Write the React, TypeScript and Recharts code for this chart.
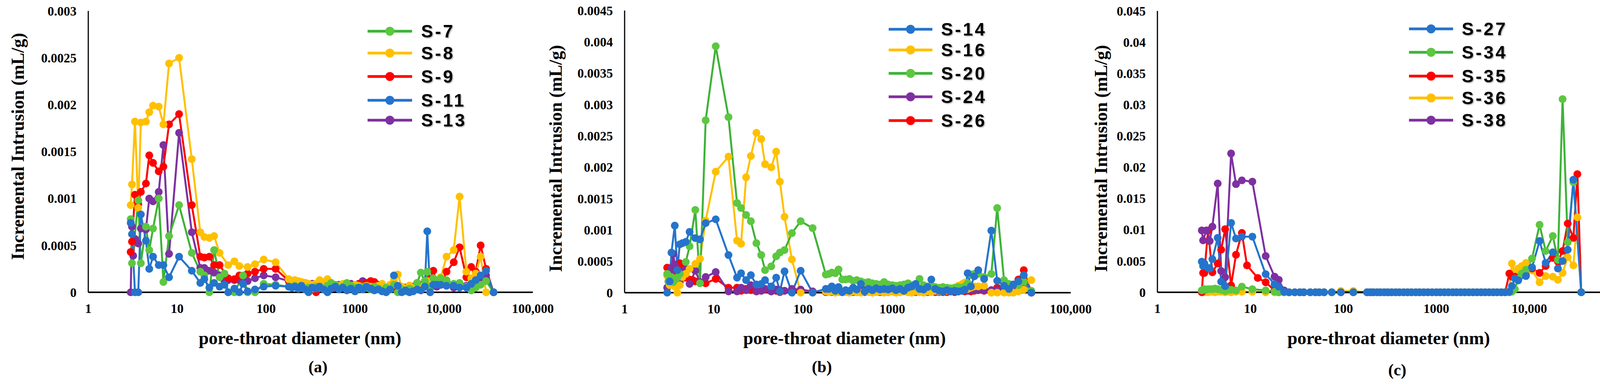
import React from 'react'
import { LineChart, Line, XAxis, YAxis } from 'recharts'

const n = null

// pore-throat diameters (nm), same pressure table for every sample
const DIAM = [
  3, 3.1, 3.2, 3.35, 3.5, 3.65, 3.9, 4.15, 4.45, 4.85,
  5.35, 5.8, 6.2, 7, 8.1, 9.2, 10.5, 12, 14.6, 18.2,
  20.2, 23, 26, 30, 34, 37.5, 44, 50, 55, 62,
  75, 94, 128, 180, 195, 210, 230, 250, 275, 300,
  330, 365, 400, 445, 490, 540, 600, 660, 730, 810,
  900, 1000, 1100, 1220, 1350, 1500, 1650, 1830, 2020, 2240,
  2480, 2740, 3030, 3350, 3700, 4100, 4500, 5000, 5500, 6100,
  6500, 7000, 7600, 8300, 9200, 10700, 12900, 15000, 17900, 20300,
  22800, 25900, 29800, 32900, 36200,
]

// ---- panel (a), mL/g
const S7 = [
  0.00078, 0.00031, n, n, n, 0.00098, 0.00031, n, 0.0007, 0.00045,
  0.00068, n, 0.001, 0.00011, 0.0006, n, 0.00093, n, 0.00042, 0.00022,
  0.00018, 0, 0.00045, 0.00016, 0.0002, 0, 0, n, 0.00018, 0,
  0, 0.00009, 0.00008, 0.00006, 0.00005, 0.00007, 0.00004, 0.00006, 0.00003, 0.00005,
  0.00004, 0.00006, 0.00005, 0.00003, 0.00007, 0.0001, 0.00008, 0.00004, 0.00006, 0.0001,
  0.00007, 0.00005, 0.00004, 0.00006, 0.00005, 0.00003, 0.00006, 0.00004, 0.00002, 0.00005,
  0.00003, 0.00008, 0, 0.00003, 0.00001, 0.00004, 0.00002, 0.0001, 0.00021, 0.00012,
  0.00022, 0.00006, 0.00015, 0.00012, 0.00015, 0.00013, 0.00009, 0.0001, 0.00006, 0.00002,
  0.00005, 0.00008, 0.00012, n, 0,
]
const S8 = [
  0.00093, 0.00115, n, 0.00182, n, 0.0009, 0.00181, n, 0.00182, 0.00192,
  0.00199, n, 0.00198, 0.00179, 0.00244, n, 0.0025, n, 0.00142, 0.00064,
  0.00059, 0.00058, 0.0006, 0.00042, n, 0.00029, 0.00033, 0.00028, n, 0.00027,
  0.0003, 0.00035, 0.00032, 0.00014, 0.00012, 0.00013, 0.00012, 0.00011, 0.0001, 0.00009,
  0.00008, 0.00009, 0.00013, 0.00011, 0.00014, 0.0001, 0.00008, 0.00007, 0.00009, 0.00008,
  0.00007, 0.00008, 0.00007, 0.00006, 0.00007, 0.00006, 0.00005, 0.00007, 0.00009, 0.00005,
  0.00008, 0.00013, 0.00019, 0.00006, 0.00004, 0.00007, 0.00005, 0.00003, 0.00006, 0.00008,
  0.00012, 0.00006, 0.00009, 0.00012, 0.00016, 0.00038, 0.00045, 0.00102, 0.00022, 0.00015,
  0.0002, 0.00038, 0, n, n,
]
const S9 = [
  0.00043, 0.00054, n, 0.00104, n, 0.00094, 0.00107, n, 0.00116, 0.00146,
  0.00138, n, 0.00129, 0.00134, 0.00179, n, 0.0019, n, 0.00093, 0.00038,
  0.00037, 0.00038, 0.00029, 0.00029, n, 0.00015, 0.00014, 0.00018, n, 0.0002,
  0.00022, 0.00025, 0.00025, 0.00012, 0.00009, 0.0001, 0.00008, 0.00007, 0.00009, 0.00006,
  0.00004, 0, 0.00005, 0.00007, 0.00006, 0.00008, 0.00005, 0.00007, 0.00006, 0.00009,
  0.00008, 0.00006, 0.00009, 0.00007, 0.0001, 0.00012, 0.00011, 0.00008, 0.00007, 0.00005,
  0.00004, 0.00006, 0.00005, 0.00003, 0.00005, 0.00007, 0.00006, 0.0001, 0.00008, 0.00006,
  0.00009, 0.00014, 0.00023, 0.0001, 0.00008, 0.00022, 0.00032, 0.00048, 0.00016, 0.00027,
  0.00022, 0.0005, 0.00025, n, 0,
]
const S11 = [
  0.00074, 0.00062, n, 0, n, 0, 0.00083, n, 0.00055, 0.00025,
  0.00038, n, 0.00029, 0.00029, 0.00016, n, 0.00038, n, 0.00023, 0.0001,
  0.00014, 0.00005, 0.0001, 0.00006, 0.00008, 0, 0.00004, 0, 0.00009, 0.00001,
  0.00003, 0.00006, 0.00007, 0.00006, 0.00005, 0.00006, 0.00004, 0.00007, 0.00003, 0,
  0.00005, 0.00004, 0.00006, 0.00003, 0, 0.00004, 0.00006, 0.00003, 0.00005, 0.00002,
  0.00004, 0.00001, 0.00005, 0.00003, 0.00006, 0.00004, 0.00002, 0.00003, 0.00001, 0,
  0.00003, 0.00018, 0.00007, 0, 0.00002, 0, 0.00001, 0.00003, 0.00002, 0.00006,
  0.00065, 0, 0.00008, 0.00008, 0.00008, 0.00007, 0.00007, 0.00005, 0.00005, 0.00009,
  0.00013, 0.00018, 0.00023, n, 0,
]
const S13 = [
  0, 0.0007, 0.00039, 0.00057, n, 0.00052, 0.00068, n, 0.00067, 0.001,
  0.00097, n, 0.00107, 0.00157, 0.00041, n, 0.0017, n, 0.00064, 0.00026,
  0.00026, 0.00023, 0.00021, 0.00018, 0.00012, 0.00013, 0.00013, 0.00013, 0.00014, 0.00012,
  0.00015, 0.00018, 0.00016, 0.00012, 0.0001, 0.00009, 0.00011, 0.00008, 0.0001, 0.00007,
  0.00009, 0.00006, 0.00008, 0.00005, 0.00007, 0.00004, 0.00006, 0.00008, 0.00005, 0.00007,
  0.00009, 0.00007, 0.00008, 0.00012, 0.00006, 0.00008, 0.00005, 0.00004, 0.00006, 0.00003,
  0.00005, 0.00004, 0.00006, 0.00003, 0.00004, 0.00002, 0.00003, 0.00005, 0.00004, 0.00006,
  0.00008, 0.00005, 0.00007, 0.00006, 0.00008, 0.00007, 0.00005, 0.00006, 0.00007, 0.00008,
  0.0001, 0.00012, 0.00018, n, 0,
]

// ---- panel (b), mL/g
const S14 = [
  0, n, 0.00018, 0.00064, n, 0.00107, 0.00036, 0.00077, 0.00079, 0.00081,
  0.00097, n, 0.00087, 0.00085, 0.00111, n, 0.00117, n, 0.0006, 0.00024,
  0.00031, 0.0002, 0.00028, 0.00013, 0.00014, 0.0002, 0.0001, 0.00024, 0.00002, 0.00034,
  0, 0.00035, 0, 0.00006, 0.00006, 0.0001, 0.00003, 0.00009, 0.00001, 0.00004,
  0.00003, 0.00008, 0.00005, 0.00014, 0.00002, 0.00006, 0.00004, 0.00007, 0.00005, 0.00006,
  0.00005, 0.00007, 0.00004, 0.00006, 0.00003, 0.00008, 0.0001, 0.00014, 0.00006, 0.00005,
  0.00009, 0.00021, 0.00006, 0.00003, 0.00002, 0.00004, 0.00002, 0.00003, 0.00002, 0.00003,
  0.00005, 0.00031, 0.0001, 0.00026, 0.00036, 0.00022, 0.00099, 0.00019, 0.00011, 0.00006,
  0.00013, 0.00018, 0.00028, n, 0,
]
const S16 = [
  0.00027, 0.00018, 0.00012, 0.00022, 0.00015, 0.0001, 0, 0.00012, 0.00025, 0.0003,
  0.00038, n, 0.00046, 0.00054, 0.00115, n, 0.00193, n, 0.00217, 0.00083,
  0.00078, 0.00184, 0.00218, 0.00255, 0.00245, 0.00205, 0.002, 0.00225, 0.00177, 0.00121,
  0.00053, 0, 0, 0.00002, 0.00001, 0.00002, 0, 0.00001, 0.00002, 0.00001,
  0, 0.00002, 0.00001, 0, 0.00002, 0.00001, 0, 0.00001, 0.00002, 0,
  0.00001, 0.00002, 0, 0.00001, 0.00002, 0.00001, 0, 0.00002, 0.00001, 0,
  0.00002, 0.00001, 0.00003, 0.00002, 0.00004, 0.00003, 0.00005, 0.00008, 0.00011, 0.00014,
  0.00016, 0.00006, 0.00008, 0.0001, 0.0001, 0.00011, 0, 0, 0, 0,
  0, 0.00002, 0.00005, n, 0.0002,
]
const S20 = [
  0.0003, 0.00018, 0.00022, 0.00025, 0.00017, 0.00022, 0.00024, 0.0003, n, 0.00049,
  0.00074, n, 0.00132, 0.00015, 0.00275, n, 0.00393, n, 0.0028, 0.00143,
  0.00135, 0.00124, 0.00114, 0.00079, 0.0006, 0.00036, 0.00042, 0.00058, 0.00064, 0.00068,
  0.00095, 0.00114, 0.00103, 0.00029, 0.0003, 0.00032, 0.00031, 0.00037, 0.00021, 0.00021,
  0.00022, 0.00019, 0.0002, 0.00018, 0.00016, 0.00017, 0.00015, 0.00014, 0.00013, 0.00017,
  0.00013, 0.00012, 0.00011, 0.00012, 0.00013, 0.00015, 0.00012, 0.0001, 0.00022, 0.00012,
  0.0001, 0.0001, 0.00009, 0.00008, 0.00009, 0.00008, 0.00007, 0.00008, 0.00009, 0.00008,
  0.0001, 0.00015, 0.00029, 0.0003, 0.0003, 0.00025, 0.0003, 0.00135, 0.0002, 0.00014,
  0.00013, 0.00012, 0.00018, n, 0.00003,
]
const S24 = [
  0.00008, 0.00018, 0.0003, 0.0004, 0.00062, 0.00045, 0.00022, 0.00017, 0.0003, 0.00038,
  0.00014, n, 0.00035, 0.00017, 0.00025, n, 0.00033, n, 0.00002, 0.00002,
  0.00008, 0.00004, 0.00012, 0.00002, 0.00003, 0.00006, 0.00002, 0.00005, 0.00004, 0.00003,
  0.00006, 0.00005, 0.00002, 0.00003, 0.00002, 0.00004, 0.00003, 0.00002, 0.00001, 0.00003,
  0.00002, 0.00001, 0.00003, 0.00002, 0.00004, 0.00002, 0.00001, 0.00003, 0.00002, 0.00004,
  0.00003, 0.00002, 0.00001, 0.00002, 0.00003, 0.00002, 0.00004, 0.00002, 0.00003, 0.00001,
  0.00002, 0.00003, 0.00002, 0.00001, 0.00002, 0.00003, 0.00002, 0.00001, 0.00002, 0.00003,
  0.00004, 0.00003, 0.00005, 0.00004, 0.00005, 0.00004, 0.00004, 0.00004, 0.00005, 0.00003,
  0.00004, 0.00005, 0.00006, n, 0,
]
const S26 = [
  0.0004, 0.00025, 0.0003, 0.00035, 0.0002, 0.00028, 0.00025, 0.00047, 0.00038, 0.00024,
  0.00021, 0.0002, 0.00018, 0.00016, 0.00015, n, 0.00022, n, 0.00008, 0.00008,
  0.00003, 0.00006, 0.00004, 0.00002, 0.00003, 0.00005, 0.00002, 0.00003, 0.00001, 0.00003,
  0.00002, 0.00004, 0.00002, 0.00001, 0.00002, 0.00001, 0.00003, 0.00002, 0.00001, 0.00002,
  0.00001, 0.00002, 0.00001, 0.00002, 0.00001, 0.00003, 0.00001, 0.00002, 0.00001, 0.00002,
  0.00001, 0.00002, 0.00001, 0.00001, 0.00002, 0.00001, 0.00002, 0.00001, 0.00002, 0.00001,
  0.00001, 0.00002, 0.00001, 0.00002, 0.00001, 0.00001, 0.00002, 0.00001, 0.00002, 0.00003,
  0.00002, 0.00003, 0.00002, 0.00003, 0.00004, 0.00003, 0.00004, 0.00008, 0.00003, 0.00004,
  0.00005, 0.00021, 0.00036, n, 0,
]

// ---- panel (c), mL/g
const S27 = [
  0.0049, 0.0042, 0.0046, n, 0.0039, 0.0038, 0.0053, n, 0.0087, 0.0017,
  0.001, n, 0.0111, 0.0086, 0.0089, n, 0.0089, n, 0.0029, 0.0013,
  0.0009, 0.0001, 0, 0, 0, 0, 0, 0, 0, 0,
  0, 0, 0, 0, 0, 0, 0, 0, 0, 0,
  0, 0, 0, 0, 0, 0, 0, 0, 0, 0,
  0, 0, 0, 0, 0, 0, 0, 0, 0, 0,
  0, 0, 0, 0, 0, 0, 0, 0, 0, 0.0001,
  0.001, 0.0022, 0.0019, n, 0.0026, 0.004, 0.0082, 0.0047, 0.0064, 0.0038,
  0.005, 0.0068, 0.018, n, 0,
]
const S34 = [
  0.0003, 0.0004, 0.0005, 0.0004, 0.0005, 0.0005, 0.0005, 0.0006, 0.0005, 0.0004,
  0.0002, 0.0004, 0.0004, 0.0003, 0.0009, n, 0.0005, n, 0.0003, 0.0001,
  0, 0, 0, 0, 0, 0, 0, 0, 0, 0,
  0, 0, 0, 0, 0, 0, 0, 0, 0, 0,
  0, 0, 0, 0, 0, 0, 0, 0, 0, 0,
  0, 0, 0, 0, 0, 0, 0, 0, 0, 0,
  0, 0, 0, 0, 0, 0, 0, 0, 0, 0,
  0.0001, 0.0005, 0.0022, 0.003, 0.0036, 0.0054, 0.0108, 0.0066, 0.009, 0.0052,
  0.0309, 0.008, 0.0176, n, 0,
]
const S35 = [
  0, 0.0031, 0.0031, n, 0.0099, n, 0.0032, n, 0.0046, 0.0068,
  0.0101, n, 0.0011, 0.006, 0.0095, 0.0043, n, 0.0023, 0.0016, 0.0003,
  0, 0, 0, 0, 0, 0, 0, 0, 0, 0,
  0, 0, 0, 0, 0, 0, 0, 0, 0, 0,
  0, 0, 0, 0, 0, 0, 0, 0, 0, 0,
  0, 0, 0, 0, 0, 0, 0, 0, 0, 0,
  0, 0, 0, 0, 0, 0, 0, 0, 0, 0.003,
  0.0025, 0.0025, 0.002, n, 0.0027, 0.0038, 0.0031, 0.0042, 0.0055, 0.0049,
  0.0066, 0.011, 0.0087, 0.0189, 0,
]
const S36 = [
  0.0001, 0.0001, 0, 0.0001, 0, 0.0001, 0.0001, 0, 0.0001, 0.0001,
  0, 0.0001, 0, 0.0001, 0.0001, n, 0.0001, n, 0, 0,
  0, 0, 0, 0, 0, 0, 0, 0, 0, 0,
  0, 0.0002, 0.0002, 0, 0, 0, 0, 0, 0, 0,
  0, 0, 0, 0, 0, 0, 0, 0, 0, 0,
  0, 0, 0, 0, 0, 0, 0, 0, 0, 0,
  0, 0, 0, 0, 0, 0, 0, 0, 0, 0.0002,
  0.0046, 0.0033, 0.0038, 0.0042, 0.0047, 0.0035, 0.0016, 0.0026, 0.0025, 0.002,
  0.0031, 0.0056, 0.0043, 0.012, 0,
]
const S38 = [
  0.0099, 0.0083, n, 0.0099, n, 0.0082, 0.0105, n, 0.0174, 0.0034,
  0.0024, n, 0.0222, 0.0173, 0.0179, n, 0.0177, n, 0.0058, 0.0025,
  0.002, 0.0003, 0, 0, 0, 0, 0, 0, 0, 0,
  0, 0, 0, 0, 0, 0, 0, 0, 0, 0,
  0, 0, 0, 0, 0, 0, 0, 0, 0, 0,
  0, 0, 0, 0, 0, 0, 0, 0, 0, 0,
  0, 0, 0, 0, 0, 0, 0, 0, 0, 0,
  n, n, n, n, n, n, n, n, n, n,
  n, n, n, n, n,
]

const X_TICKS = [1, 10, 100, 1000, 10000, 100000]
const Y_TICKS_A = [0, 0.0005, 0.001, 0.0015, 0.002, 0.0025, 0.003]
const Y_TICKS_B = [0, 0.0005, 0.001, 0.0015, 0.002, 0.0025, 0.003, 0.0035, 0.004, 0.0045]
const Y_TICKS_C = [0, 0.005, 0.01, 0.015, 0.02, 0.025, 0.03, 0.035, 0.04, 0.045]

const GREEN = '#3DB337'
const YELLOW = '#FFC000'
const RED = '#FF0000'
const BLUE = '#2574CB'
const PURPLE = '#7E30A0'

const SERIF = '"Liberation Serif", "Times New Roman", serif'
const SANS = '"Liberation Sans", Arial, sans-serif'
const H = 984

interface Series { name: string; key: string; color: string; dot: string; values: (number | null)[] }
interface PanelCfg {
  tag: string
  left: number; width: number; yWidth: number
  plotLeft: number; plotRight: number; plotTop: number; plotBottom: number
  yTicks: number[]
  series: Series[]        // legend order
  order: number[]         // draw order
  legend: { x1: number; x2: number; tx: number; rows: number[] }
  yTitle: [number, number]
  xTitle: [number, number]
  tagPos: [number, number]
}

const PANELS: PanelCfg[] = [
  {
    tag: '(a)', left: 0, width: 1440, yWidth: 150,
    plotLeft: 226, plotRight: 1364, plotTop: 28, plotBottom: 749,
    yTicks: Y_TICKS_A,
    series: [
      { name: 'S-7', key: 's7', color: GREEN, dot: '#5CC741', values: S7 },
      { name: 'S-8', key: 's8', color: YELLOW, dot: YELLOW, values: S8 },
      { name: 'S-9', key: 's9', color: RED, dot: RED, values: S9 },
      { name: 'S-11', key: 's11', color: BLUE, dot: BLUE, values: S11 },
      { name: 'S-13', key: 's13', color: PURPLE, dot: PURPLE, values: S13 },
    ],
    order: [4, 2, 1, 0, 3],
    legend: { x1: 941, x2: 1055, tx: 1078, rows: [80, 136, 196, 257, 308] },
    yTitle: [45, 375], xTitle: [768, 866], tagPos: [814, 940],
  },
  {
    tag: '(b)', left: 1440, width: 1380, yWidth: 150,
    plotLeft: 1599, plotRight: 2741, plotTop: 27, plotBottom: 750,
    yTicks: Y_TICKS_B,
    series: [
      { name: 'S-14', key: 's14', color: BLUE, dot: BLUE, values: S14 },
      { name: 'S-16', key: 's16', color: YELLOW, dot: YELLOW, values: S16 },
      { name: 'S-20', key: 's20', color: GREEN, dot: '#5CC741', values: S20 },
      { name: 'S-24', key: 's24', color: PURPLE, dot: PURPLE, values: S24 },
      { name: 'S-26', key: 's26', color: RED, dot: RED, values: S26 },
    ],
    order: [4, 3, 1, 2, 0],
    legend: { x1: 2275, x2: 2387, tx: 2409, rows: [75, 128, 188, 248, 309] },
    yTitle: [1422, 406], xTitle: [2162, 866], tagPos: [2104, 940],
  },
  {
    tag: '(c)', left: 2840, width: 1374, yWidth: 110,
    plotLeft: 2963, plotRight: 4153, plotTop: 28, plotBottom: 749,
    yTicks: Y_TICKS_C,
    series: [
      { name: 'S-27', key: 's27', color: BLUE, dot: BLUE, values: S27 },
      { name: 'S-34', key: 's34', color: GREEN, dot: '#5CC741', values: S34 },
      { name: 'S-35', key: 's35', color: RED, dot: RED, values: S35 },
      { name: 'S-36', key: 's36', color: YELLOW, dot: YELLOW, values: S36 },
      { name: 'S-38', key: 's38', color: PURPLE, dot: PURPLE, values: S38 },
    ],
    order: [3, 2, 4, 1, 0],
    legend: { x1: 3607, x2: 3720, tx: 3742, rows: [74, 134, 195, 251, 308] },
    yTitle: [2818, 406], xTitle: [3555, 866], tagPos: [3577, 948],
  },
]

const TICK = { fontSize: 33, fontFamily: SERIF, fontWeight: 700, fill: '#000' }
const X_AXIS_H = 60

function fmtX(v: number) {
  return v >= 10000 ? v.toLocaleString('en-US') : String(v)
}

function fmtY(v: number) {
  return String(v)
}

function Panel({ p }: { p: PanelCfg }) {
  const rows = DIAM.map((d, i) => {
    const row: Record<string, number | null> = { d }
    p.series.forEach((s) => { row[s.key] = s.values[i] })
    return row
  })
  const yMax = p.yTicks[p.yTicks.length - 1]
  const margin = {
    top: p.plotTop,
    right: p.left + p.width - p.plotRight,
    bottom: H - p.plotBottom - X_AXIS_H,
    left: p.plotLeft - p.left - p.yWidth,
  }

  return (
    <div style={{ position: 'absolute', left: p.left, top: 0 }}>
      <LineChart width={p.width} height={H} data={rows} margin={margin}>
        <XAxis
          dataKey="d" type="number" scale="log" domain={[1, 100000]} allowDataOverflow
          ticks={X_TICKS} interval={0} tickFormatter={fmtX}
          tickLine={false} tickSize={0} tickMargin={30} tick={TICK}
          axisLine={{ stroke: '#000', strokeWidth: 4 }} height={X_AXIS_H}
        />
        <XAxis
          xAxisId="top" orientation="top" dataKey="d" type="number" scale="log"
          domain={[1, 100000]} allowDataOverflow tick={false} tickLine={false}
          axisLine={{ stroke: '#000', strokeWidth: 3 }} height={0}
        />
        <YAxis
          type="number" domain={[0, yMax]} ticks={p.yTicks} interval={0} tickFormatter={fmtY}
          tickLine={false} tickSize={0} tickMargin={30} tick={TICK}
          axisLine={{ stroke: '#000', strokeWidth: 3 }} width={p.yWidth}
        />
        <YAxis
          yAxisId="right" orientation="right" type="number" domain={[0, yMax]}
          tick={false} tickLine={false} axisLine={{ stroke: '#000', strokeWidth: 3 }} width={0}
        />
        {p.order.map((i) => {
          const s = p.series[i]
          return (
            <Line
              key={s.key}
              dataKey={s.key}
              stroke={s.color}
              strokeWidth={5}
              dot={{ r: 10, fill: s.dot, stroke: s.dot, strokeWidth: 0 }}
              activeDot={false}
              connectNulls
              isAnimationActive={false}
            />
          )
        })}
      </LineChart>
    </div>
  )
}

function Labels() {
  return (
    <svg width={4214} height={H} style={{ position: 'absolute', left: 0, top: 0, pointerEvents: 'none' }}>
      <defs>
        <filter id="legendShadow" x="-10%" y="-20%" width="130%" height="150%">
          <feDropShadow dx="2" dy="2" stdDeviation="1.5" floodColor="#000" floodOpacity="0.35" />
        </filter>
      </defs>
      {PANELS.map((p) => (
        <g key={p.tag}>
          <text
            x={p.yTitle[0]} y={p.yTitle[1]}
            transform={`rotate(-90 ${p.yTitle[0]} ${p.yTitle[1]})`}
            textAnchor="middle" dominantBaseline="central"
            fontFamily={SERIF} fontWeight={700} fontSize={46} fill="#000"
          >
            Incremental Intrusion (mL/g)
          </text>
          <text
            x={p.xTitle[0]} y={p.xTitle[1]} textAnchor="middle" dominantBaseline="central"
            fontFamily={SERIF} fontWeight={700} fontSize={46} fill="#000"
          >
            pore-throat diameter (nm)
          </text>
          <text
            x={p.tagPos[0]} y={p.tagPos[1]} textAnchor="middle" dominantBaseline="central"
            fontFamily={SERIF} fontWeight={700} fontSize={42} fill="#000"
          >
            {p.tag}
          </text>
          {p.series.map((s, i) => {
            const y = p.legend.rows[i]
            const cx = (p.legend.x1 + p.legend.x2) / 2
            return (
              <g key={s.key}>
                <line x1={p.legend.x1} x2={p.legend.x2} y1={y} y2={y} stroke={s.color} strokeWidth={7} />
                <circle cx={cx} cy={y} r={11.5} fill={s.dot} />
                <text
                  x={p.legend.tx} y={y} dominantBaseline="central"
                  fontFamily={SANS} fontWeight={700} fontSize={46} letterSpacing={5}
                  fill="#000" filter="url(#legendShadow)"
                >
                  {s.name}
                </text>
              </g>
            )
          })}
        </g>
      ))}
    </svg>
  )
}

export default function App() {
  return (
    <div style={{ position: 'absolute', left: 0, top: 0, width: 4214, height: H, background: '#fff' }}>
      {PANELS.map((p) => <Panel key={p.tag} p={p} />)}
      <Labels />
    </div>
  )
}
